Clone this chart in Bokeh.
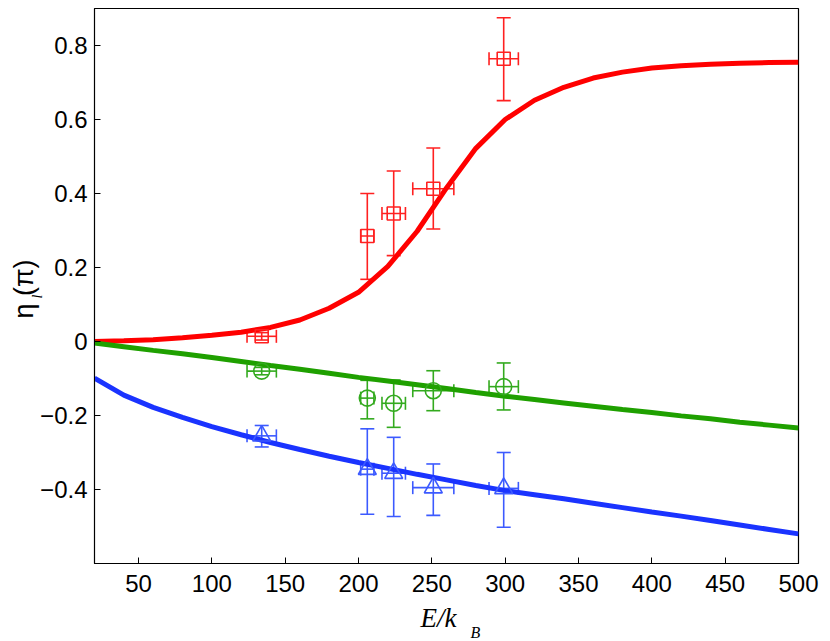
import numpy as np
from bokeh.plotting import figure
from bokeh.models import Range1d, FixedTicker, ColumnDataSource, Whisker, TeeHead, Label
from bokeh.embed import file_html
from bokeh.resources import INLINE

# --- curves (theory) ---
curve_x = [20, 40, 60, 80, 100, 120, 140, 160, 180, 200, 220, 240, 260, 280, 300,
           320, 340, 360, 380, 400, 420, 440, 460, 480, 500]
red_curve = [0.0, 0.002, 0.005, 0.010, 0.017, 0.025, 0.038, 0.058, 0.090, 0.133, 0.203,
             0.298, 0.415, 0.522, 0.600, 0.652, 0.687, 0.712, 0.728, 0.739, 0.745,
             0.749, 0.752, 0.754, 0.755]
green_curve = [-0.004, -0.014, -0.024, -0.033, -0.043, -0.054, -0.065, -0.075, -0.086,
               -0.097, -0.107, -0.117, -0.127, -0.138, -0.148, -0.157, -0.166, -0.175,
               -0.184, -0.192, -0.201, -0.209, -0.218, -0.226, -0.234]
blue_curve = [-0.099, -0.145, -0.178, -0.205, -0.230, -0.252, -0.273, -0.292, -0.310,
              -0.327, -0.343, -0.359, -0.374, -0.389, -0.403, -0.414, -0.425, -0.437,
              -0.449, -0.461, -0.472, -0.484, -0.496, -0.508, -0.520]

# --- data points ---
pt_x = [134, 206, 224, 251, 299]
pt_xerr = [10, 4.5, 8, 14, 10]
red_y = [0.014, 0.285, 0.346, 0.413, 0.764]
red_up = [0.024, 0.400, 0.461, 0.523, 0.875]
red_lo = [0.004, 0.168, 0.232, 0.304, 0.651]
green_y = [-0.080, -0.153, -0.167, -0.133, -0.122]
green_up = [-0.070, -0.105, -0.104, -0.079, -0.058]
green_lo = [-0.090, -0.209, -0.232, -0.187, -0.185]
blue_y = [-0.255, -0.345, -0.356, -0.395, -0.397]
blue_up = [-0.227, -0.236, -0.259, -0.331, -0.300]
blue_lo = [-0.285, -0.467, -0.473, -0.470, -0.502]

x_ticks = [50, 100, 150, 200, 250, 300, 350, 400, 450, 500]
y_ticks = [-0.4, -0.2, 0, 0.2, 0.4, 0.6, 0.8]
y_tick_labels = ["\u22120.4", "\u22120.2", "0", "0.2", "0.4", "0.6", "0.8"]

p = figure(width=830, height=641, output_backend="svg", toolbar_location=None,
           x_range=Range1d(20, 500), y_range=Range1d(-0.6, 0.9),
           min_border_left=94, min_border_right=32, min_border_top=8, min_border_bottom=78)
p.grid.visible = False
p.outline_line_color = "black"
p.outline_line_width = 1.2
p.background_fill_color = "white"
p.border_fill_color = "white"

for ax in (p.xaxis[0], p.yaxis[0]):
    ax.major_tick_in = 6
    ax.major_tick_out = 0
    ax.minor_tick_line_color = None
    ax.axis_line_color = "black"
    ax.major_tick_line_color = "black"
    ax.major_label_text_font = "Liberation Sans"
    ax.major_label_text_font_size = "24px"
    ax.major_label_text_color = "black"

p.xaxis.ticker = FixedTicker(ticks=x_ticks)
p.yaxis.ticker = FixedTicker(ticks=y_ticks)
p.yaxis.major_label_overrides = {t: l for t, l in zip(y_ticks, y_tick_labels)}
p.xaxis.major_label_standoff = 11
p.yaxis.major_label_standoff = 7

RED = "#ff0000"
RED_M = "#ff2020"
GREEN = "#1fa000"
GREEN_M = "#33aa1e"
BLUE = "#1a33ff"
BLUE_M = "#3c5aff"

# curves
p.line(curve_x, red_curve, line_color=RED, line_width=5)
p.line(curve_x, green_curve, line_color=GREEN, line_width=5)
p.line(curve_x, blue_curve, line_color=BLUE, line_width=5)

xl = [x - e for x, e in zip(pt_x, pt_xerr)]
xu = [x + e for x, e in zip(pt_x, pt_xerr)]

def add_points(ys, ups, los, color, marker, size):
    src = ColumnDataSource(dict(x=pt_x, y=ys, up=ups, lo=los, xl=xl, xu=xu))
    vw = Whisker(source=src, base="x", upper="up", lower="lo", dimension="height",
                 line_color=color, line_width=1.6,
                 upper_head=TeeHead(size=14, line_color=color, line_width=1.6),
                 lower_head=TeeHead(size=14, line_color=color, line_width=1.6))
    hw = Whisker(source=src, base="y", upper="xu", lower="xl", dimension="width",
                 line_color=color, line_width=1.6,
                 upper_head=TeeHead(size=13, line_color=color, line_width=1.6),
                 lower_head=TeeHead(size=13, line_color=color, line_width=1.6))
    p.add_layout(vw)
    p.add_layout(hw)
    p.scatter("x", "y", source=src, marker=marker, size=size, fill_color=None,
              line_color=color, line_width=1.6)

add_points(red_y, red_up, red_lo, RED_M, "square", 13)
add_points(green_y, green_up, green_lo, GREEN_M, "circle", 16)
add_points(blue_y, blue_up, blue_lo, BLUE_M, "triangle", 18)

# axis labels, placed in side panels so that they are not clipped by the frame
p.add_layout(Label(x=242.3, y=-0.748, text="E/k", text_font="Liberation Serif",
                   text_font_style="italic", text_font_size="27px", text_align="left",
                   text_baseline="alphabetic", text_color="black"), "below")
p.add_layout(Label(x=276.4, y=-0.786, text="B", text_font="Liberation Serif",
                   text_font_style="italic", text_font_size="16px", text_align="left",
                   text_baseline="alphabetic", text_color="black"), "below")
p.add_layout(Label(x=-28.4, y=0.062, text="\u03b7 (\u03c0)", text_font="Liberation Sans",
                   text_font_size="27px", text_align="left", text_baseline="alphabetic",
                   angle=np.pi / 2, text_color="black"), "left")
p.add_layout(Label(x=-18.8, y=0.116, text="l", text_font="Liberation Serif",
                   text_font_style="italic", text_font_size="14px", text_align="left",
                   text_baseline="alphabetic", angle=np.pi / 2, text_color="black"), "right")

open("out.html", "w").write(file_html(p, INLINE))
